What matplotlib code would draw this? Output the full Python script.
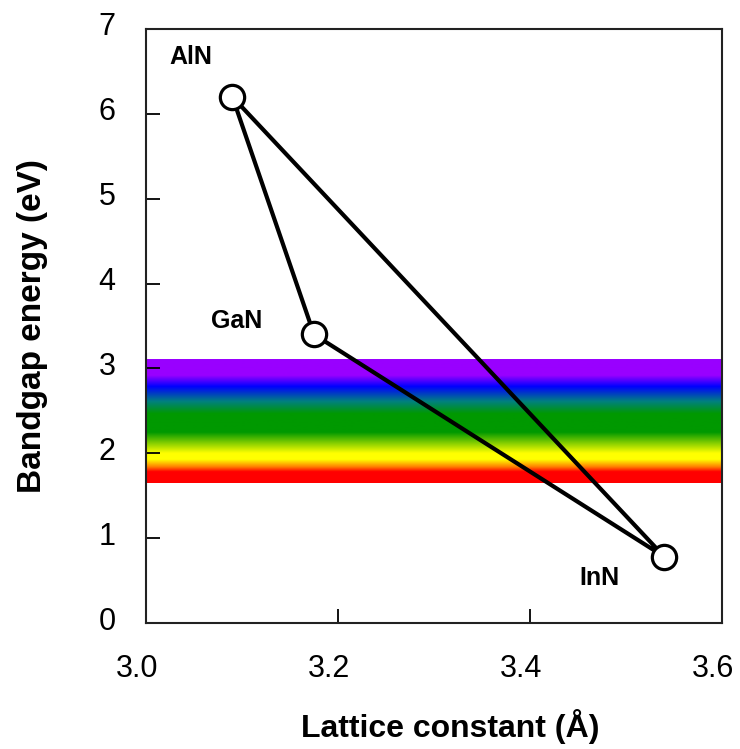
import numpy as np
import matplotlib
matplotlib.use("Agg")
import matplotlib.pyplot as plt
import matplotlib.transforms as mtransforms
from matplotlib.colors import LinearSegmentedColormap

plt.rcParams["font.family"] = ["Liberation Sans", "DejaVu Sans"]

# dados
materiais = ["AlN", "GaN", "InN"]
constante_rede = [3.09, 3.175, 3.54]   # Angstrom
energia_gap = [6.2, 3.4, 0.78]          # eV
visivel_min = 1.65
visivel_max = 3.10
xticks = [3.0, 3.2, 3.4, 3.6]
xticklabels = ["3.0", "3.2", "3.4", "3.6"]
yticks = [0, 1, 2, 3, 4, 5, 6, 7]

fig = plt.figure(figsize=(7.4, 7.49), dpi=100)
ax = fig.add_axes([0.1973, 0.1682, 0.7784, 0.7931])

# faixa do espectro visivel
cores = [
    (0.00, "#ff0000"),
    (0.09, "#ff0000"),
    (0.13, "#ff8000"),
    (0.19, "#ffff00"),
    (0.24, "#ffff00"),
    (0.41, "#009900"),
    (0.56, "#009900"),
    (0.66, "#008080"),
    (0.78, "#0000ff"),
    (0.87, "#9900ff"),
    (1.00, "#9900ff"),
]
arco_iris = LinearSegmentedColormap.from_list("arco_iris", cores)
grad = np.linspace(0, 1, 256).reshape(-1, 1)
ax.imshow(grad, extent=[xticks[0], xticks[-1], visivel_min, visivel_max],
          origin="lower", aspect="auto", cmap=arco_iris, zorder=1)

# triangulo ligando os tres nitretos
xs = constante_rede + [constante_rede[0]]
ys = energia_gap + [energia_gap[0]]
ax.plot(xs, ys, color="black", lw=3, zorder=3, solid_joinstyle="round")
ax.plot(constante_rede, energia_gap, "o", ms=17.5, mfc="white", mec="black",
        mew=2.3, zorder=4)

offsets = {"AlN": (-30, 29), "GaN": (-56, 10), "InN": (-47, -15)}
for nome, x, y in zip(materiais, constante_rede, energia_gap):
    ax.annotate(nome, (x, y), xytext=offsets[nome], textcoords="offset points",
                ha="center", va="center", fontsize=18, fontweight="bold")

ax.set_xlim(xticks[0], xticks[-1])
ax.set_ylim(yticks[0], yticks[-1])
ax.set_xticks(xticks)
ax.set_xticklabels(xticklabels)
ax.set_yticks(yticks)
ax.tick_params(direction="in", length=10, width=1.3, labelsize=22, pad=22,
               top=False, right=False)
for s in ax.spines.values():
    s.set_linewidth(1.5)
    s.set_color("#222222")

# rotulos um pouco deslocados como no original
dx = mtransforms.ScaledTranslation(-0.09, 0, fig.dpi_scale_trans)
for lab in ax.get_xticklabels():
    lab.set_transform(lab.get_transform() + dx)
dy = mtransforms.ScaledTranslation(0, 0.05, fig.dpi_scale_trans)
for lab in ax.get_yticklabels():
    lab.set_transform(lab.get_transform() + dy)

ax.set_xlabel("Lattice constant (Å)", fontsize=23, fontweight="bold")
ax.set_ylabel("Bandgap energy (eV)", fontsize=24, fontweight="bold")
ax.xaxis.set_label_coords(0.528, -0.145)
ax.yaxis.set_label_coords(-0.17, 0.5)

fig.savefig("out.png", dpi=100)
